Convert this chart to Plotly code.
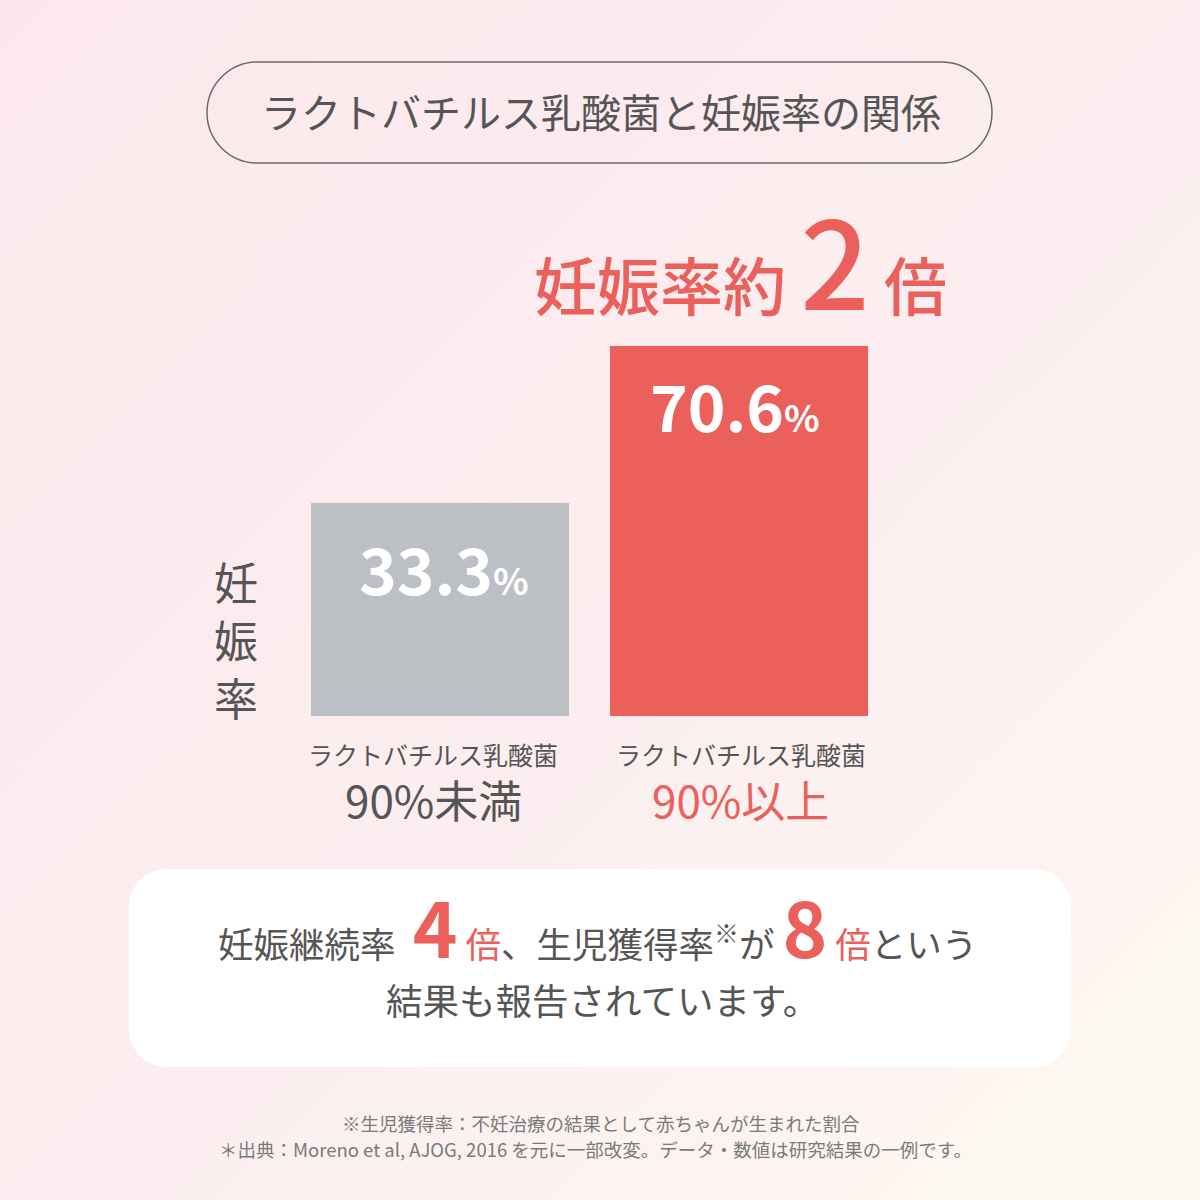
import base64
import numpy as np
import plotly.graph_objects as go

# ---------------- data ----------------
cat_top = ["ラクトバチルス乳酸菌", "ラクトバチルス乳酸菌"]
cat_bottom = ["90%未満", "90%以上"]
values = [33.3, 70.6]
bar_colors = ["#BCBFC4", "#EB605A"]
cat_colors = ["#555555", "#EB605A"]

title_text = "ラクトバチルス乳酸菌と妊娠率の関係"
headline_main = "妊娠率約"
headline_num = "2"
headline_unit = "倍"
y_title = "妊娠率"
summary_nums = ["4", "8"]
footnotes = [
    "※生児獲得率：不妊治療の結果として赤ちゃんが生まれた割合",
    "＊出典：Moreno et al, AJOG, 2016 を元に一部改変。データ・数値は研究結果の一例です。",
]

# ---------------- helpers ----------------
W = H = 1200
RED = "#EB605A"
DARK = "#555555"
FONT = "Noto Sans CJK JP"


def px(x):
    return x / W


def py(y):
    return 1 - y / H


def rounded_path(x0, y0, x1, y1, r):
    k = 0.5523 * r
    pts = [
        f"M {px(x0 + r)},{py(y0)}",
        f"L {px(x1 - r)},{py(y0)}",
        f"C {px(x1 - r + k)},{py(y0)} {px(x1)},{py(y0 + r - k)} {px(x1)},{py(y0 + r)}",
        f"L {px(x1)},{py(y1 - r)}",
        f"C {px(x1)},{py(y1 - r + k)} {px(x1 - r + k)},{py(y1)} {px(x1 - r)},{py(y1)}",
        f"L {px(x0 + r)},{py(y1)}",
        f"C {px(x0 + r - k)},{py(y1)} {px(x0)},{py(y1 - r + k)} {px(x0)},{py(y1 - r)}",
        f"L {px(x0)},{py(y0 + r)}",
        f"C {px(x0)},{py(y0 + r - k)} {px(x0 + r - k)},{py(y0)} {px(x0 + r)},{py(y0)}",
        "Z",
    ]
    return " ".join(pts)


# ---------------- figure ----------------
fig = go.Figure()
fig.add_trace(
    go.Bar(
        x=list(range(len(values))),
        y=values,
        width=0.863,
        marker=dict(color=bar_colors, line=dict(width=0)),
        hoverinfo="skip",
        showlegend=False,
    )
)

svg = (
    '<svg xmlns="http://www.w3.org/2000/svg" width="1200" height="1200">'
    '<defs><linearGradient id="g" x1="0" y1="0" x2="1" y2="1">'
    '<stop offset="0" stop-color="#FCE8EC"/>'
    '<stop offset="0.55" stop-color="#FCEEF0"/>'
    '<stop offset="1" stop-color="#FDF9F1"/>'
    "</linearGradient></defs>"
    '<rect width="1200" height="1200" fill="url(#g)"/></svg>'
)
bg_src = "data:image/svg+xml;base64," + base64.b64encode(svg.encode()).decode()

shapes = [
    dict(type="path", xref="paper", yref="paper",
         path=rounded_path(207, 62, 992, 163, 50.5),
         line=dict(color="#6A6A6A", width=1.5), fillcolor="rgba(0,0,0,0)", layer="below"),
    dict(type="path", xref="paper", yref="paper",
         path=rounded_path(129, 869, 1071, 1067, 38),
         line=dict(width=0), fillcolor="#FFFFFF", layer="below"),
]

annotations = []
# title
annotations.append(dict(text=title_text, x=px(601), y=py(111), xref="paper", yref="paper",
                        showarrow=False, xanchor="center", yanchor="middle",
                        font=dict(family=FONT, size=40, color=DARK)))
# headline
annotations.append(dict(
    text=f"{headline_main} <span style='font-size:122px'>{headline_num}</span> {headline_unit}",
    x=px(740), y=py(256), xref="paper", yref="paper", showarrow=False,
    xanchor="center", yanchor="middle",
    font=dict(family=FONT, size=63, color=RED, weight=500)))
# y title (stacked vertical characters)
for ch, yy in zip(list(y_title), [581, 639, 697]):
    annotations.append(dict(text=ch, x=px(236), y=py(yy),
                            xref="paper", yref="paper", showarrow=False,
                            xanchor="center", yanchor="middle",
                            font=dict(family=FONT, size=44, color=DARK)))
# value labels inside bars
val_xshift = [5, -4]
val_yshift = [-64, -58]
for i, v in enumerate(values):
    annotations.append(dict(
        text=f"{v}<span style='font-size:37px'>%</span>",
        x=i, y=np.log10(v), xref="x", yref="y", showarrow=False,
        xanchor="center", yanchor="middle", yshift=val_yshift[i], xshift=val_xshift[i],
        font=dict(family=FONT, size=64, color="#FFFFFF", weight="bold")))
# category labels
cat_xshift = [-6, 2]
for i in range(len(values)):
    annotations.append(dict(text=cat_top[i], x=i, y=py(754), xref="x", yref="paper",
                            showarrow=False, xanchor="center", yanchor="middle",
                            xshift=cat_xshift[i],
                            font=dict(family=FONT, size=25, color=DARK)))
    annotations.append(dict(text=cat_bottom[i], x=i, y=py(799), xref="x", yref="paper",
                            showarrow=False, xanchor="center", yanchor="middle",
                            xshift=cat_xshift[i],
                            font=dict(family=FONT, size=44, color=cat_colors[i])))

# summary box text
big = "font-size:76px;font-weight:bold;color:" + RED
red = "color:" + RED
line1 = (f"妊娠継続率<span style='{big}'> {summary_nums[0]}</span> "
         f"<span style='{red}'>倍</span>、生児獲得率<sup>※</sup>が "
         f"<span style='{big}'>{summary_nums[1]}</span> "
         f"<span style='{red}'>倍</span>という")
annotations.append(dict(text=line1, x=px(597), y=py(925), xref="paper", yref="paper",
                        showarrow=False, xanchor="center", yanchor="middle",
                        font=dict(family=FONT, size=35.5, color=DARK)))
annotations.append(dict(text="結果も報告されています。", x=px(602), y=py(999),
                        xref="paper", yref="paper", showarrow=False,
                        xanchor="center", yanchor="middle",
                        font=dict(family=FONT, size=36.5, color=DARK)))
# footnotes
for txt, yy, xx in zip(footnotes, [1123, 1149], [600, 595]):
    annotations.append(dict(text=txt, x=px(xx), y=py(yy), xref="paper", yref="paper",
                            showarrow=False, xanchor="center", yanchor="middle",
                            font=dict(family=FONT, size=18.5, color="#7A7A7A")))

fig.update_layout(
    width=W, height=H,
    margin=dict(l=0, r=0, t=0, b=0),
    paper_bgcolor="#FCEEF0",
    plot_bgcolor="rgba(0,0,0,0)",
    font=dict(family=FONT),
    images=[dict(source=bg_src, xref="paper", yref="paper", x=0, y=1,
                 sizex=1, sizey=1, sizing="stretch", layer="below", xanchor="left", yanchor="top")],
    shapes=shapes,
    annotations=annotations,
    xaxis=dict(domain=[px(289.5), px(888.5)], range=[-0.5, 1.5], visible=False, fixedrange=True),
    yaxis=dict(domain=[py(716), py(346)], type="log", range=[1.08, np.log10(max(values))],
               visible=False, fixedrange=True),
    bargap=0,
)

fig.write_html(
    "out.html",
    config=dict(displayModeBar=False),
    post_script="document.body.style.margin='0';document.body.style.overflow='hidden';",
)
